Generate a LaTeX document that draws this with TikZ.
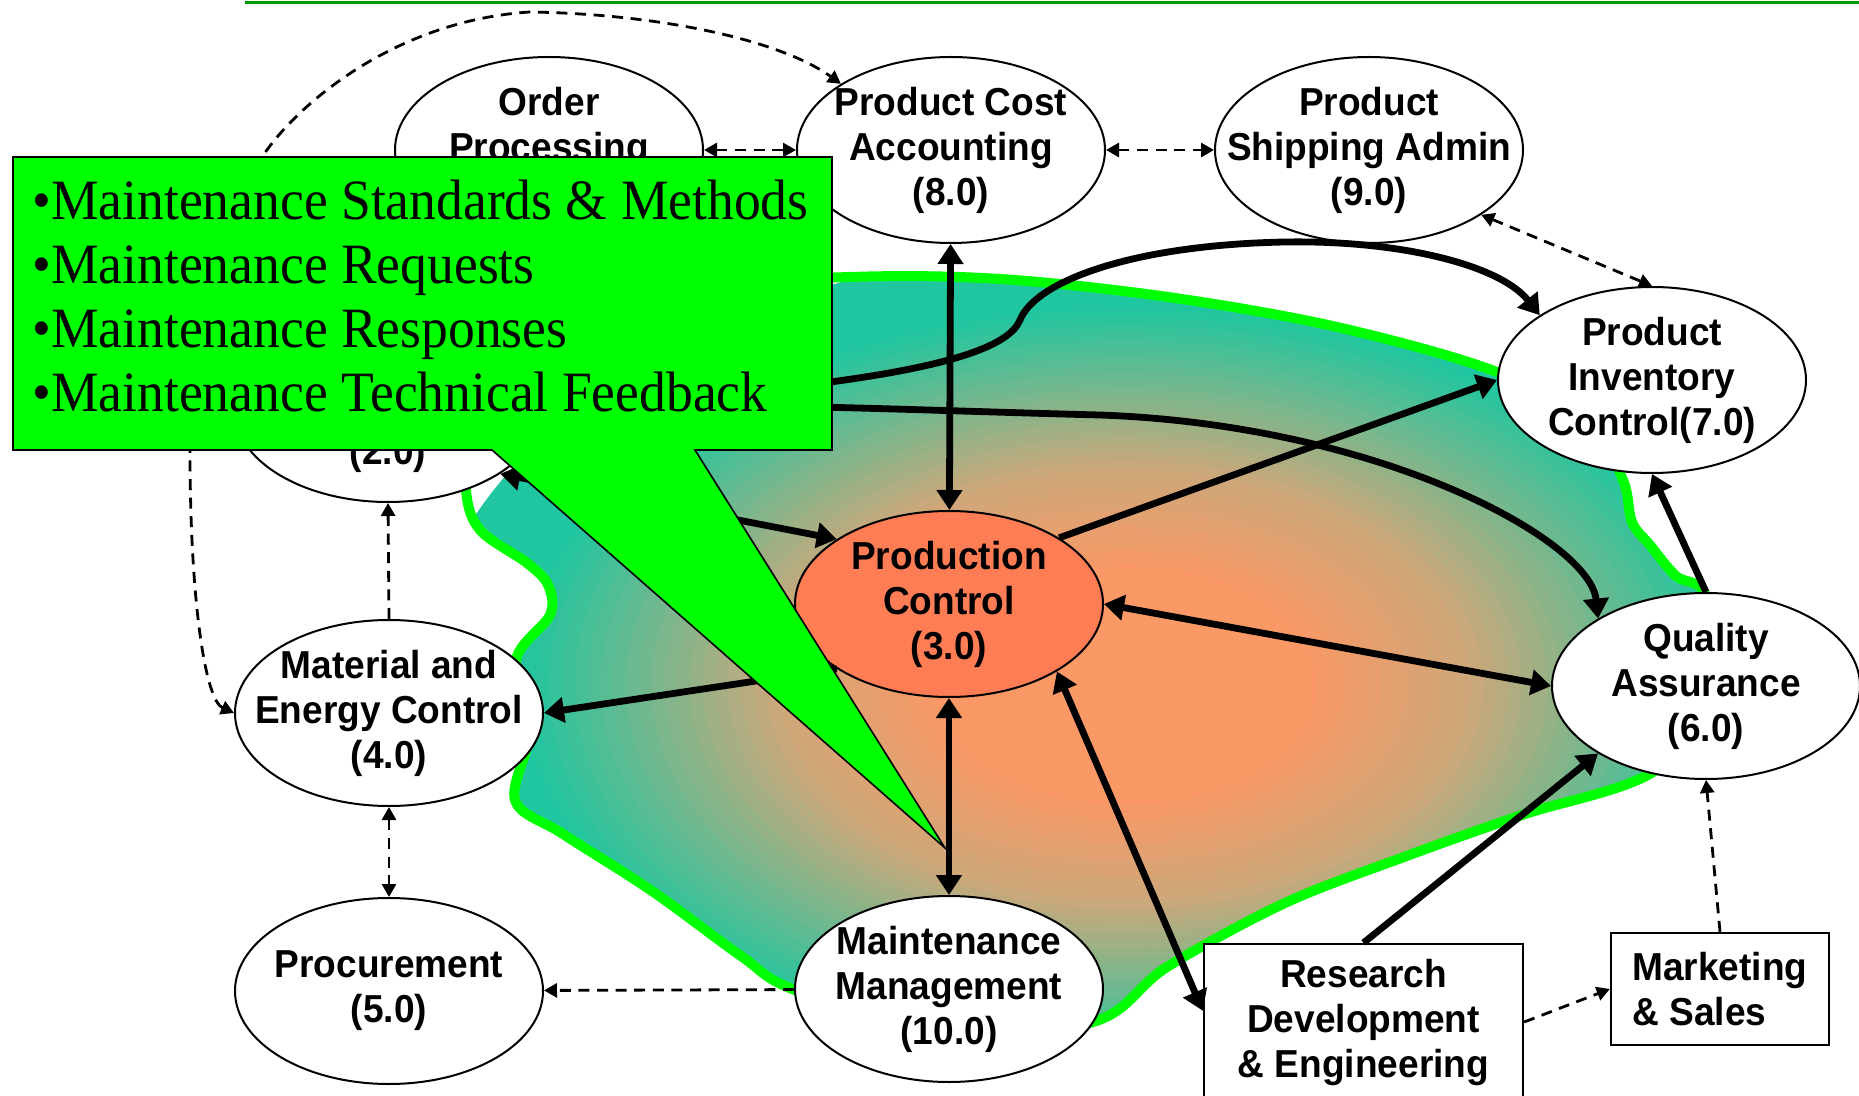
\documentclass[tikz,border=0pt]{standalone}
\usepackage{fontspec}
\newfontfamily\boxfont[FakeStretch=0.95]{Liberation Sans}
\newfontfamily\notefont[FakeStretch=0.94]{Liberation Serif}
\usetikzlibrary{positioning, calc, shapes.geometric, arrows.meta}
\definecolor{pcred}{RGB}{255,125,85}
\definecolor{blobcore}{RGB}{250,152,102}
\definecolor{blobmid}{RGB}{205,168,122}
\definecolor{blobedge}{RGB}{32,198,160}
\definecolor{topline}{RGB}{0,153,0}

\begin{document}
\begin{tikzpicture}[x=0.5pt, y=-0.5pt, node distance=46pt,
func/.style={ellipse, draw=black, line width=1pt, fill=white, minimum width=154pt, minimum height=93pt, inner sep=-40pt, align=center, font=\boxfont\bfseries\fontsize{19.5}{22.5}\selectfont},
unit/.style={rectangle, draw=black, line width=1.2pt, fill=white, font=\boxfont\bfseries\fontsize{19.5}{22.5}\selectfont},
flow/.style={line width=3.4pt, >={Triangle[length=10pt,width=12.5pt]}},
info/.style={line width=1.4pt, dash pattern=on 5.5pt off 3.8pt, >={Triangle[length=6.5pt,width=7pt]}},
blob/.style={draw=green, line width=5pt, path picture={
  \foreach \k in {0,...,54}{
    \pgfmathsetmacro\r{1.1-\k*0.02}
    \pgfmathsetmacro\pa{max(0,min(100,(0.95-\r)/0.4*100))}
    \pgfmathsetmacro\pb{max(0,min(100,(0.55-\r)/0.25*100))}
    \fill[blobcore!\pb!blobmid!\pa!blobedge] (1125,685) ellipse [x radius=640*\r, y radius=400*\r];
  }}}]
\useasboundingbox (0,0) rectangle (1859,1096);
\draw[topline, line width=1.5pt] (245,3) -- (1859,3);
\path[blob] plot[smooth cycle, tension=0.55] coordinates {(650,290) (850,277) (1000,279) (1168,297) (1337,327) (1497,372) (1590,425) (1623,480) (1632,522) (1650,545) (1676,576) (1706,596) (1720,690) (1653,772) (1522,815) (1404,857) (1285,903) (1167,967) (1096,1021) (950,1035) (795,990) (741,956) (652,891) (563,834) (515,800) (530,730) (516,660) (550,615) (548,585) (527,563) (480,530) (466,490) (470,420) (520,330)};
\node (op) [func] at (549,150) {Order\\Processing\\(1.0)};
\node (pca) [func, right = of op] {Product Cost\\Accounting\\(8.0)};
\node (psa) [func, right = 54pt of pca] {Product\\Shipping Admin\\(9.0)};
\node (pic) [func] at (1652,380) {Product\\Inventory\\Control(7.0)};
\node (qa) [func] at (1706,686) {Quality\\Assurance\\(6.0)};
\node (pc) [func, fill=pcred] at (949,604) {Production\\Control\\(3.0)};
\node (ps) [func] at (388,409) {Production\\Scheduling\\(2.0)};
\node (me) [func] at (389,713) {Material and\\Energy Control\\(4.0)};
\node (proc) [func, below = 45pt of me] {Procurement\\(5.0)};
\node (mm) [func] at (949,989) {Maintenance\\Management\\(10.0)};
\node (rd) [unit, minimum width=159.5pt, minimum height=78pt, align=center] at (1363.5,1022) {Research\\Development\\\& Engineering};
\node (ms) [unit, minimum width=109pt, minimum height=56pt, align=left] at (1720,989) {Marketing\\\& Sales};
\path (op) edge[info, <->] (pca);
\path (pca) edge[info, <->] (psa);
\path (psa.-30) edge[info, <->] (pic.north);
\path (me.north) edge[info, ->] (ps.south);
\path (me) edge[info, <->] (proc);
\path (mm) edge[info, ->] (proc);
\path (rd.east) edge[info, ->] (ms.west);
\path (ms.north) edge[info, ->] (qa.south);
\draw[info, <->] (me.west) .. controls (205,700) and (190,600) .. (190,450) .. controls (190,300) and (215,220) .. (262,157) .. controls (300,100) and (400,20) .. (530,12) .. controls (660,14) and (780,40) .. (pca.149);
\path (pca) edge[flow, <->] (pc);
\path (pc) edge[flow, <->] (mm);
\path (pc.31) edge[flow, ->] (pic.west);
\path (pc.east) edge[flow, <->] (qa.west);
\path (pc.-32) edge[flow, <->] (rd.176);
\path (rd.north) edge[flow, ->] (qa.212);
\path (qa.north) edge[flow, ->] (pic.south);
\path (pc.210) edge[flow, ->] (me.east);
\path (ps.-30) edge[flow, <->] (pc.150);
\draw[flow, ->] (ps.east) .. controls (800,390) and (1000,370) .. (1020,320) .. controls (1035,282) and (1130,245) .. (1285,242) .. controls (1400,240) and (1500,265) .. (pic.150);
\draw[flow, ->] (ps.east) .. controls (700,400) and (900,410) .. (1100,415) .. controls (1380,425) and (1590,540) .. (qa.148);
\draw[fill=green, line width=0.8pt] (13,157) -- (832,157) -- (832,450) -- (695,450) -- (945,848) -- (492,450) -- (13,450) -- cycle;
\node (note) [anchor=north west, align=left, inner sep=0pt, font=\notefont\fontsize{28.5}{32}\selectfont] at (32,180) {•Maintenance Standards \& Methods\\•Maintenance Requests\\•Maintenance Responses\\•Maintenance Technical Feedback};
\end{tikzpicture}
\end{document}
